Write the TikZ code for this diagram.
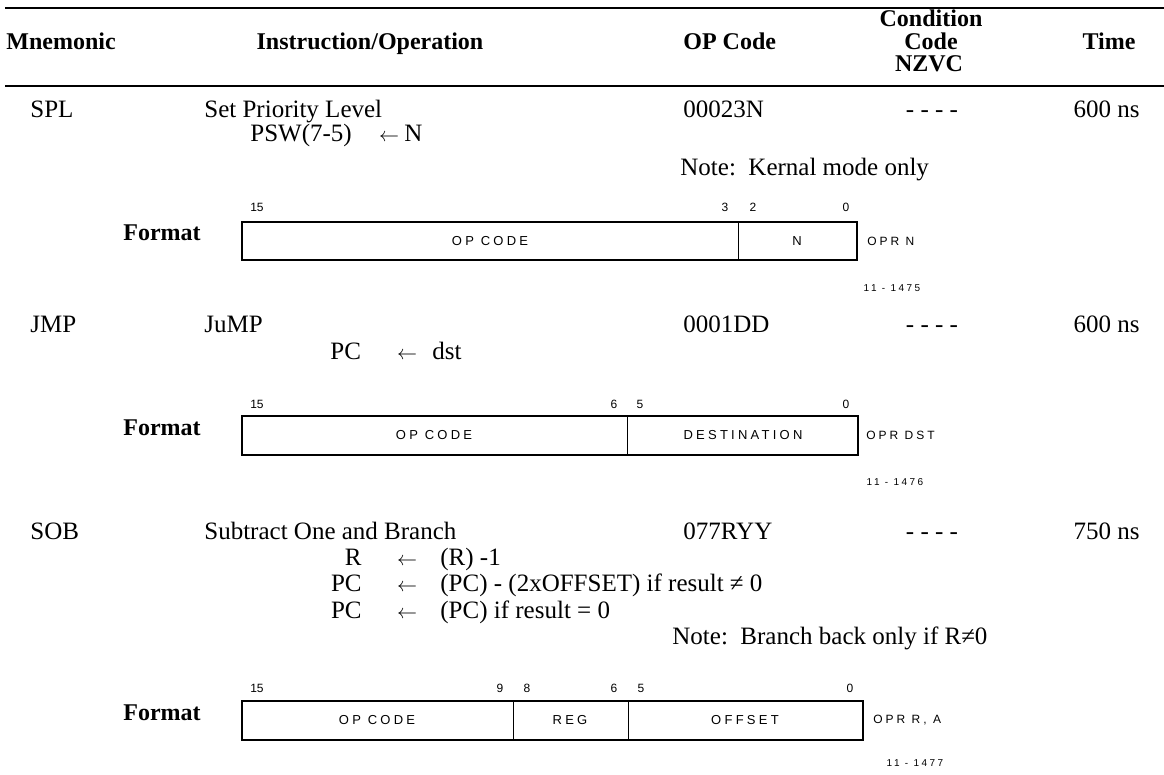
\documentclass[tikz,border=0pt]{standalone}
\usepackage{fontspec}
\setmainfont{Liberation Serif}
\newfontfamily\boxfont[LetterSpace=25]{Liberation Sans}
\newfontfamily\bitfont{Liberation Sans}
\newcommand{\larr}{{\fontsize{10}{12}\selectfont$\leftarrow$}}
\begin{document}
\begin{tikzpicture}[x=0.5pt,y=-0.5pt,
  hdr/.style={font=\bfseries\fontsize{12}{14}\selectfont, inner sep=0pt},
  txt/.style={font=\fontsize{12.5}{14}\selectfont, inner sep=0pt},
  bitnum/.style={font=\bitfont\fontsize{6}{7}\selectfont, inner sep=0pt, anchor=base},
  fld/.style={font=\boxfont\fontsize{6.5}{7}\selectfont, inner sep=0pt},
  oprlab/.style={font=\boxfont\fontsize{6}{7}\selectfont, inner sep=0pt, anchor=west},
  tag/.style={font=\boxfont\fontsize{5}{6}\selectfont, inner sep=0pt},
  rulel/.style={line width=1.1pt},
  fmtbox/.style={draw, line width=0.9pt},
  divl/.style={line width=0.5pt}]
\useasboundingbox (0,0) rectangle (1164,775);
% rules
\coordinate (r1a) at (5,8); \coordinate (r1b) at (1164,8);
\coordinate (r2a) at (5,86); \coordinate (r2b) at (1164,86);
\draw[rulel] (r1a) -- (r1b);
\draw[rulel] (r2a) -- (r2b);
% header
\node[hdr, anchor=base west] (hMn) at (6,50) {Mnemonic};
\node[hdr, anchor=base] (hIns) at (370,50) {Instruction/Operation};
\node[hdr, anchor=base west] (hOp) at (683,50) {OP Code};
\node[hdr, anchor=base] (hCa) at (931,27) {Condition};
\node[hdr, anchor=base] (hCb) at (931,50) {Code};
\node[hdr, anchor=base] (hCc) at (929,72) {NZVC};
\node[hdr, anchor=base] (hTime) at (1109,50) {Time};
% ---------- SPL
\node[txt, anchor=base west] (mSPL) at (30,118) {SPL};
\node[txt, anchor=base west] (dSPL) at (204,118) {Set Priority Level};
\node[txt, anchor=base west] (eSPLa) at (250,142) {PSW(7-5)};
\node[txt, anchor=base] (eSPLb) at (389,142) {\larr};
\node[txt, anchor=base west] (eSPLc) at (404,142) {N};
\node[txt, anchor=base west] (oSPL) at (683,118) {00023N};
\node[txt, anchor=base] (cSPL) at (932,118) {- - - -};
\node[txt, anchor=base east] (tSPL) at (1140,118) {600 ns};
\node[txt, anchor=base west] (nSPL) at (680,176) {Note:\ \ Kernal mode only};
\node[hdr, anchor=base west] (fSPL) at (123,241) {Format};
\draw[fmtbox] (242,222) rectangle (857,260);
\draw[divl] (738,222) -- (738,260);
\node[bitnum] (bSPLa) at (257,212) {15};
\node[bitnum] (bSPLb) at (725,212) {3};
\node[bitnum] (bSPLc) at (753,212) {2};
\node[bitnum] (bSPLd) at (846,212) {0};
\node[fld] (kSPLa) at (490,241) {OP CODE};
\node[fld] (kSPLb) at (797,241) {N};
\node[oprlab] (pSPL) at (867,241) {OPR N};
\node[tag] (gSPL) at (892,288) {11 - 1475};
% ---------- JMP
\node[txt, anchor=base west] (mJMP) at (30,333) {JMP};
\node[txt, anchor=base west] (dJMP) at (204,333) {JuMP};
\node[txt, anchor=base west] (eJMPa) at (330,360) {PC};
\node[txt, anchor=base] (eJMPb) at (407,360) {\larr};
\node[txt, anchor=base west] (eJMPc) at (432,360) {dst};
\node[txt, anchor=base west] (oJMP) at (683,333) {0001DD};
\node[txt, anchor=base] (cJMP) at (932,333) {- - - -};
\node[txt, anchor=base east] (tJMP) at (1140,333) {600 ns};
\node[hdr, anchor=base west] (fJMP) at (123,436) {Format};
\draw[fmtbox] (242,416) rectangle (858,455);
\draw[divl] (627,416) -- (627,455);
\node[bitnum] (bJMPa) at (257,409) {15};
\node[bitnum] (bJMPb) at (614,409) {6};
\node[bitnum] (bJMPc) at (640,409) {5};
\node[bitnum] (bJMPd) at (846,409) {0};
\node[fld] (kJMPa) at (434,435) {OP CODE};
\node[fld] (kJMPb) at (743,435) {DESTINATION};
\node[oprlab] (pJMP) at (866,435) {OPR DST};
\node[tag] (gJMP) at (895,482) {11 - 1476};
% ---------- SOB
\node[txt, anchor=base west] (mSOB) at (30,540) {SOB};
\node[txt, anchor=base west] (dSOB) at (204,540) {Subtract One and Branch};
\node[txt, anchor=base west] (oSOB) at (683,540) {077RYY};
\node[txt, anchor=base] (cSOB) at (932,540) {- - - -};
\node[txt, anchor=base east] (tSOB) at (1140,540) {750 ns};
\node[txt, anchor=base east] (eSOBa1) at (362,566) {R};
\node[txt, anchor=base] (eSOBa2) at (407,566) {\larr};
\node[txt, anchor=base west] (eSOBa3) at (440,566) {(R) -1};
\node[txt, anchor=base east] (eSOBb1) at (362,592) {PC};
\node[txt, anchor=base] (eSOBb2) at (407,592) {\larr};
\node[txt, anchor=base west] (eSOBb3) at (440,592) {(PC) - (2xOFFSET) if result ≠ 0};
\node[txt, anchor=base east] (eSOBc1) at (362,618) {PC};
\node[txt, anchor=base] (eSOBc2) at (407,618) {\larr};
\node[txt, anchor=base west] (eSOBc3) at (440,618) {(PC) if result = 0};
\node[txt, anchor=base west] (nSOB) at (672,645) {Note:\ \ Branch back only if R≠0};
\node[hdr, anchor=base west] (fSOB) at (123,720) {Format};
\draw[fmtbox] (242,701) rectangle (863,740);
\draw[divl] (513,701) -- (513,740);
\draw[divl] (628,701) -- (628,740);
\node[bitnum] (bSOBa) at (257,693) {15};
\node[bitnum] (bSOBb) at (500,693) {9};
\node[bitnum] (bSOBc) at (527,693) {8};
\node[bitnum] (bSOBd) at (614,693) {6};
\node[bitnum] (bSOBe) at (641,693) {5};
\node[bitnum] (bSOBf) at (850,693) {0};
\node[fld] (kSOBa) at (377,720) {OP CODE};
\node[fld] (kSOBb) at (570,720) {REG};
\node[fld] (kSOBc) at (745,720) {OFFSET};
\node[oprlab] (pSOB) at (873,720) {OPR R, A};
\node[tag] (gSOB) at (915,763) {11 - 1477};
\end{tikzpicture}
\end{document}
